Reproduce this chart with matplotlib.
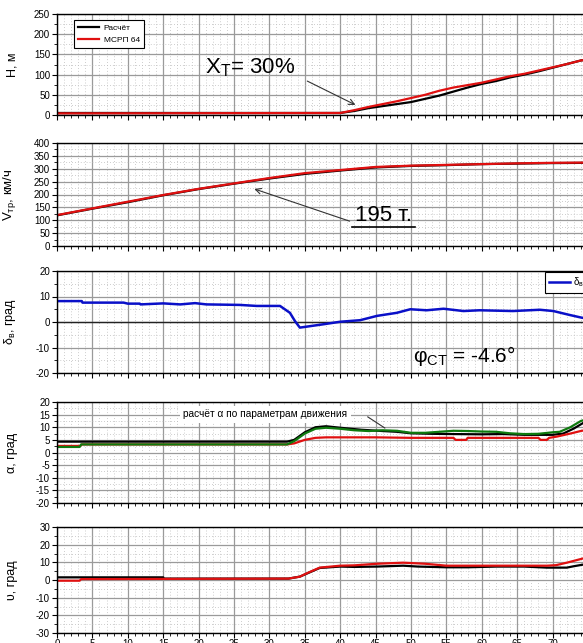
import matplotlib
matplotlib.use("Agg")
import matplotlib.pyplot as plt
from matplotlib.ticker import MultipleLocator

plt.rcParams['font.family'] = ['Liberation Sans', 'DejaVu Sans']
plt.rcParams['mathtext.fontset'] = 'custom'
plt.rcParams['mathtext.rm'] = 'Liberation Sans'
plt.rcParams['mathtext.it'] = 'Liberation Sans:italic'
plt.rcParams['axes.unicode_minus'] = False

# ---------------- data ----------------
# H, m
h_t_calc = [0, 40, 42, 44, 46, 48, 50, 52, 54, 56, 58, 60, 62, 64, 66, 68, 70, 72, 74, 76, 78]
h_calc = [5, 5, 10, 17, 22, 27, 32, 40, 48, 58, 68, 77, 84, 93, 100, 108, 117, 126, 135, 140, 148]
h_t_fdr = [0, 40, 42, 44, 46, 48, 50, 52, 54, 56, 58, 60, 62, 64, 66, 68, 70, 72, 74, 76, 78]
h_fdr = [4, 5, 12, 20, 27, 34, 42, 50, 60, 68, 74, 80, 88, 96, 102, 110, 118, 126, 135, 140, 148]

# V, km/h
v_t = [0, 5, 10, 15, 20, 25, 30, 35, 40, 45, 50, 55, 60, 65, 70, 75, 80]
v_calc = [119, 145, 170, 197, 221, 242, 262, 280, 293, 305, 311, 314, 318, 320, 322, 323, 324]
v_fdr = [120, 146, 172, 198, 222, 243, 264, 283, 295, 307, 312, 315, 318, 321, 323, 324, 325]

# elevator deflection, deg
d_t = [0, 3.5, 3.6, 9.4, 10.0, 11.7, 11.8, 15.0, 17.4, 19.5, 21.1, 25.8, 28.2, 31.5,
       32.9, 33.6, 34.3, 37.6, 40.0, 42.8, 45.2, 48.0, 49.9, 52.2, 54.6, 57.4, 59.7,
       64.4, 68.2, 70.1, 72.5, 74.1, 76.0]
d_val = [8.2, 8.2, 7.6, 7.6, 7.2, 7.2, 6.9, 7.3, 6.9, 7.4, 6.9, 6.7, 6.3, 6.3,
         3.6, 0.4, -2.2, -0.9, 0.1, 0.7, 2.4, 3.6, 5.0, 4.6, 5.2, 4.3, 4.6,
         4.3, 4.8, 4.3, 2.7, 1.7, 1.0]

# angle of attack, deg
a_t_calc = [0, 32.5, 33.5, 35, 36.5, 38, 40, 43, 46, 48, 50, 53, 56, 60, 63, 66, 70, 71.5, 73, 74.5, 76]
a_calc = [4.3, 4.3, 5, 8, 10, 10.4, 9.8, 9, 8.5, 8.2, 7.6, 7.4, 7.3, 7.2, 7.3, 7, 7, 7.5, 9.5, 12, 13]
a_t_fdr = [0, 3.3, 3.5, 32.5, 33.5, 35, 36.5, 38, 45, 50, 56, 56.3, 57.8, 58, 64, 68, 68.3,
           69.2, 69.5, 70.6, 72.5, 74.1, 76]
a_fdr = [2.6, 2.6, 3.2, 3.2, 3.6, 5, 5.8, 6, 6, 5.8, 5.8, 5.0, 5.0, 5.8, 5.8, 5.8, 5.0,
         5.0, 5.8, 6.3, 7.5, 8.6, 9.2]
a_t_motion = [0, 3.2, 3.4, 32.5, 33.5, 35, 36.5, 38, 40, 42, 44, 46, 48, 50, 52, 54, 56, 58,
              60, 62, 64, 66, 68, 70, 71, 72.5, 74, 76]
a_motion = [2.2, 2.2, 3.2, 3.2, 4.5, 7.5, 9.4, 9.8, 9.4, 8.8, 8.5, 8.8, 8.6, 7.8, 7.8, 8.2,
            8.6, 8.5, 8.3, 8.2, 7.6, 7.3, 7.4, 8.0, 8.2, 10, 12.5, 14]

# pitch, deg
p_t_calc = [0, 15, 15.1, 32.7, 34.3, 35.5, 37.1, 40, 42, 45.2, 48.9, 51, 55, 58, 62.1, 66,
            69.2, 72, 73, 74.3, 76]
p_calc = [1.5, 1.5, 0.8, 0.8, 1.9, 4, 6.8, 7.6, 7.4, 7.6, 8.1, 7.6, 7.2, 7.2, 7.6, 7.6,
          7, 7, 7.8, 8.7, 9.2]
p_t_fdr = [0, 3.2, 3.4, 32.7, 34.3, 35.5, 37.1, 40, 42, 45.2, 48.9, 52, 55, 58, 62.1, 66,
           69.2, 70.5, 72, 74.3, 76]
p_fdr = [-0.4, -0.4, 0.5, 0.8, 1.9, 4.2, 7, 8.1, 8.3, 9.2, 9.8, 9.2, 8.1, 8.1, 8.1, 8.1,
         8.1, 8.4, 9.8, 12.2, 13]

x_ticks = list(range(0, 85, 5))

RED = '#e01010'
BLUE = '#0a10c8'
GREEN = '#0f7a0f'

# ---------------- figure ----------------
W, H = 583, 643
fig = plt.figure(figsize=(W / 100, H / 100), dpi=100)

x0 = 57
xw = 80 * 7.08


def make_ax(top, bottom):
    return fig.add_axes([x0 / W, 1 - bottom / H, xw / W, (bottom - top) / H])


def style(ax, ylim, major, minor, labels=False):
    ax.set_xlim(0, 80)
    ax.set_ylim(*ylim)
    ax.set_xticks(x_ticks)
    ax.xaxis.set_minor_locator(MultipleLocator(1))
    ax.yaxis.set_major_locator(MultipleLocator(major))
    ax.yaxis.set_minor_locator(MultipleLocator(minor))
    ax.grid(which='major', color='#9a9a9a', lw=0.9)
    ax.grid(which='minor', color='#bdbdbd', lw=0.6, linestyle=(0, (1, 2.5)))
    ax.set_axisbelow(True)
    ax.tick_params(axis='both', which='major', length=3.5, width=0.8, labelsize=7, pad=1.5)
    ax.tick_params(axis='both', which='minor', length=2, width=0.6)
    ax.tick_params(axis='x', labelbottom=labels, pad=0.5)
    for s in ax.spines.values():
        s.set_linewidth(1.0)
        s.set_color('black')
    ax.yaxis.set_label_coords(-0.068, 0.5)


# Panel 1: altitude
ax1 = make_ax(14, 115)
style(ax1, (0, 250), 50, 25)
ax1.plot(h_t_calc, h_calc, color='black', lw=1.6, label='Расчёт')
ax1.plot(h_t_fdr, h_fdr, color=RED, lw=1.6, label='МСРП 64')
ax1.set_ylabel('H, м', fontsize=9)
leg = ax1.legend(loc='upper left', bbox_to_anchor=(0.022, 0.985), fontsize=6,
                 fancybox=False, edgecolor='black', framealpha=1, handlelength=2.6,
                 borderpad=0.5, labelspacing=0.5, handletextpad=0.5)
leg.get_frame().set_linewidth(0.8)
ax1.text(20.9, 118, r'$\mathrm{X_{Т}}$= 30%', fontsize=16, ha='left', va='center')
ax1.annotate('', xy=(42.5, 22), xytext=(35, 87),
             arrowprops=dict(arrowstyle='->', color='#333333', lw=0.8))

# Panel 2: speed
ax2 = make_ax(143, 246)
style(ax2, (0, 400), 50, 25)
ax2.plot(v_t, v_calc, color='black', lw=1.6)
ax2.plot(v_t, v_fdr, color=RED, lw=1.6)
ax2.set_ylabel(r'$\mathrm{V_{тр}}$, км/ч', fontsize=9.5)
ax2.text(42.1, 120, '195 т.', fontsize=16, ha='left', va='center')
ax2.plot([(352 - x0) / xw, (415 - x0) / xw], [(246 - 227) / 103] * 2,
         transform=ax2.transAxes, color='black', lw=1.2)
ax2.annotate('', xy=(27.5, 225), xytext=(41.7, 93),
             arrowprops=dict(arrowstyle='->', color='#333333', lw=0.8))

# Panel 3: elevator
ax3 = make_ax(271, 373)
style(ax3, (-20, 20), 10, 5)
ax3.axhline(0, color='#222222', lw=1.0, zorder=1.5)
ax3.plot(d_t, d_val, color=BLUE, lw=1.8, label=r'$\mathrm{δ_{в}}$')
ax3.set_ylabel(r'$\mathrm{δ_{в}}$, град', fontsize=9)
leg3 = ax3.legend(loc='upper left', bbox_to_anchor=((545 - x0) / xw, 0.995), fontsize=7,
                  fancybox=False, edgecolor='black', framealpha=1, handlelength=2.2,
                  borderpad=0.4, handletextpad=0.3, borderaxespad=0.0)
leg3.get_frame().set_linewidth(0.8)
ax3.text(50.3, -13.3, r'$\mathrm{φ_{СТ}}$ = -4.6°', fontsize=15, ha='left', va='center')

# Panel 4: angle of attack
ax4 = make_ax(402, 503)
style(ax4, (-20, 20), 5, 2.5)
ax4.plot(a_t_calc, a_calc, color='black', lw=1.6)
ax4.plot(a_t_fdr, a_fdr, color=RED, lw=1.6)
ax4.plot(a_t_motion, a_motion, color=GREEN, lw=1.6)
ax4.set_ylabel('α, град', fontsize=9)
ax4.text(17.8, 15.2, 'расчёт α по параметрам движения', fontsize=7.3, ha='left',
         va='center', bbox=dict(facecolor='white', edgecolor='none', pad=2.5))
ax4.plot([43.9, 46.3], [14.1, 9.7], color='#333333', lw=0.8)

# Panel 5: pitch
ax5 = make_ax(527, 633)
style(ax5, (-30, 30), 10, 5, labels=True)
ax5.plot(p_t_calc, p_calc, color='black', lw=1.6)
ax5.plot(p_t_fdr, p_fdr, color=RED, lw=1.6)
ax5.set_ylabel('υ, град', fontsize=9)

fig.savefig('out.png', dpi=100)
